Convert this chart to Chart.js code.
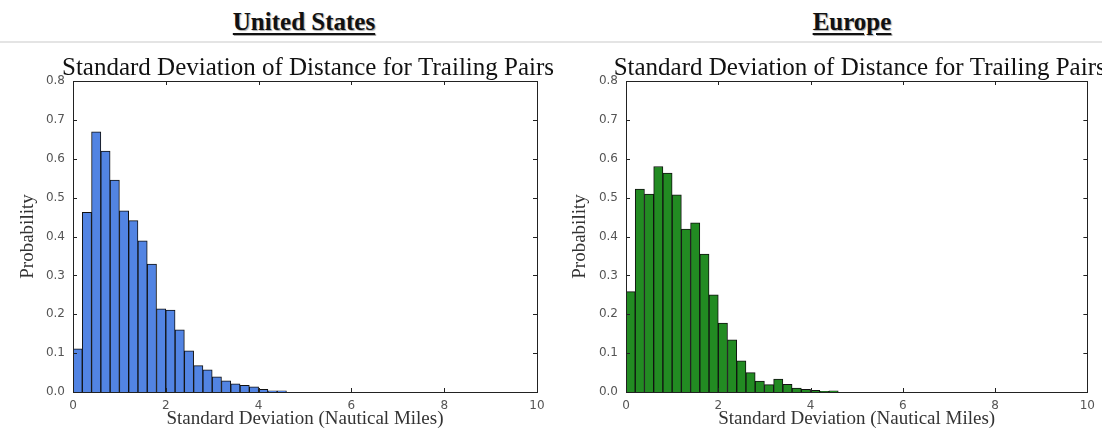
<!DOCTYPE html>
<html>
<head>
<meta charset="utf-8">
<script src="https://cdn.jsdelivr.net/npm/chart.js@4.4.1/dist/chart.umd.min.js"></script>
<style>
  html, body { margin: 0; padding: 0; background: #fff; }
  #page { position: relative; width: 1102px; height: 441px; overflow: hidden; }
  .region {
    position: absolute; top: 8px;
    font-family: "Liberation Serif", serif; font-weight: bold; font-size: 25px;
    text-decoration: underline; text-underline-offset: 3px;
    color: #111; text-shadow: 1px 1px 1px #aaa;
    transform: translateX(-50%);
    white-space: nowrap;
  }
  #sep { position: absolute; left: 0; top: 41px; width: 1102px; height: 2px; background: #e4e4e4; }
  canvas { position: absolute; top: 45px; }
</style>
</head>
<body>
<div id="page">
  <div class="region" style="left:304px">United States</div>
  <div class="region" style="left:852px">Europe</div>
  <div id="sep"></div>
  <canvas id="chart-us" width="560" height="396" style="left:0px"></canvas>
  <canvas id="chart-eu" width="551" height="396" style="left:551px"></canvas>
</div>

<script>
// bin centres (bin width 0.2 nautical miles)
const binCenters = [0.1, 0.3, 0.5, 0.7, 0.9, 1.1, 1.3, 1.5, 1.7, 1.9, 2.1, 2.3,
                    2.5, 2.7, 2.9, 3.1, 3.3, 3.5, 3.7, 3.9, 4.1, 4.3, 4.5]

const usProb = [0.111, 0.462, 0.669, 0.620, 0.545, 0.466, 0.441, 0.389, 0.329, 0.214, 0.211, 0.160,
                0.106, 0.068, 0.057, 0.039, 0.029, 0.021, 0.017, 0.013, 0.007, 0.003, 0.003]

const euProb = [0.258, 0.522, 0.509, 0.580, 0.563, 0.507, 0.419, 0.435, 0.355, 0.250, 0.177, 0.134,
                0.080, 0.050, 0.028, 0.019, 0.033, 0.020, 0.010, 0.007, 0.004, 0.002, 0.003]

const chartTitle = "Standard Deviation of Distance for Trailing Pairs"
const xTitle = "Standard Deviation (Nautical Miles)"
const yTitle = "Probability"

// frame + inward ticks on all four sides + title over the plot
const framePlugin = {
    id: "frame",
    afterDatasetsDraw(chart) {
        const { ctx, chartArea: a, scales } = chart
        const tl = 4
        ctx.save()
        ctx.strokeStyle = "#222"
        ctx.lineWidth = 1
        ctx.beginPath()
        scales.x.ticks.forEach(t => {
            const px = Math.round(scales.x.getPixelForValue(t.value)) + 0.5
            ctx.moveTo(px, a.bottom); ctx.lineTo(px, a.bottom - tl)
            ctx.moveTo(px, a.top); ctx.lineTo(px, a.top + tl)
        })
        scales.y.ticks.forEach(t => {
            const py = Math.round(scales.y.getPixelForValue(t.value)) + 0.5
            ctx.moveTo(a.left, py); ctx.lineTo(a.left + tl, py)
            ctx.moveTo(a.right, py); ctx.lineTo(a.right - tl, py)
        })
        ctx.stroke()
        ctx.strokeRect(Math.round(a.left) + 0.5, Math.round(a.top) + 0.5,
                       Math.round(a.right - a.left), Math.round(a.bottom - a.top))
        ctx.fillStyle = "#111"
        ctx.font = "25px 'Liberation Serif'"
        ctx.textAlign = "center"
        ctx.textBaseline = "alphabetic"
        ctx.fillText(chartTitle, (a.left + a.right) / 2 + 3, 30)
        ctx.restore()
    }
}

function makeHist(id, values, color, yAxisW, padRight, yTitlePad) {
    const ctx = document.getElementById(id)
    return new Chart(ctx, {
        type: "bar",
        data: {
            datasets: [{
                data: binCenters.map((c, i) => ({ x: c, y: values[i] })),
                backgroundColor: color,
                borderColor: "#111",
                borderWidth: 1,
                barPercentage: 1,
                categoryPercentage: 1
            }]
        },
        options: {
            responsive: false,
            animation: false,
            devicePixelRatio: 1,
            layout: { padding: { top: 36, right: padRight, left: 0, bottom: 0 } },
            plugins: {
                legend: { display: false },
                tooltip: { enabled: false }
            },
            scales: {
                x: {
                    type: "linear",
                    offset: false,
                    min: 0,
                    max: 10,
                    grid: { display: false, drawTicks: false },
                    border: { display: false },
                    ticks: {
                        stepSize: 2,
                        padding: 7,
                        color: "#555",
                        font: { family: "DejaVu Sans", size: 12 },
                        maxRotation: 0
                    },
                    title: {
                        display: true,
                        text: xTitle,
                        color: "#333",
                        font: { family: "Liberation Serif", size: 19 },
                        padding: { top: 0, bottom: 11 }
                    },
                    afterFit: s => { s.height = 49 }
                },
                y: {
                    min: 0,
                    max: 0.8,
                    grid: { display: false, drawTicks: false },
                    border: { display: false },
                    ticks: {
                        stepSize: 0.1,
                        padding: 8,
                        color: "#555",
                        font: { family: "DejaVu Sans", size: 12 },
                        callback: v => v.toFixed(1)
                    },
                    title: {
                        display: true,
                        text: yTitle,
                        color: "#333",
                        font: { family: "Liberation Serif", size: 19 },
                        padding: { top: yTitlePad, bottom: 0 }
                    },
                    afterFit: s => { s.width = yAxisW }
                }
            }
        },
        plugins: [framePlugin]
    })
}

makeHist("chart-us", usProb, "#5284e3", 73, 23, 17)
makeHist("chart-eu", euProb, "#228b22", 75, 10, 18)
</script>
</body>
</html>
